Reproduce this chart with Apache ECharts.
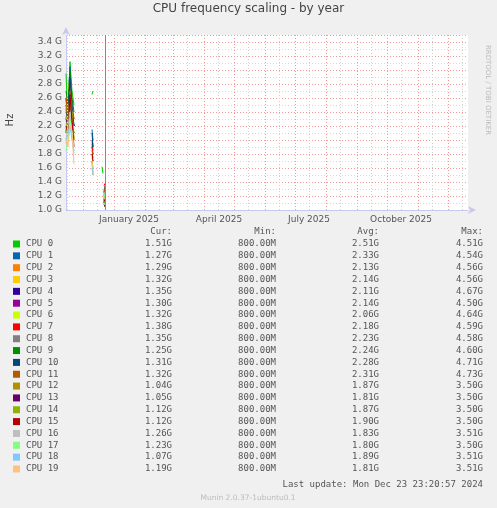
<!DOCTYPE html>
<html><head><meta charset="utf-8">
<script src="https://cdn.jsdelivr.net/npm/echarts@6/dist/echarts.min.js"></script>
<style>html,body{margin:0;padding:0;background:#f0f0f0}#c{width:497px;height:508px}</style>
</head><body><div id="c"></div>
<script>
// days since 2024-11-14 (x axis spans 402 days)
const days = [0,2,4,6,8,9,26,27,28,36,37,38,39];
const names = ["CPU 0","CPU 1","CPU 2","CPU 3","CPU 4","CPU 5","CPU 6","CPU 7","CPU 8","CPU 9","CPU 10","CPU 11","CPU 12","CPU 13","CPU 14","CPU 15","CPU 16","CPU 17","CPU 18","CPU 19"];
const colors = ["#00cc00","#0066b3","#ff8000","#ffcc00","#330099","#990099","#ccff00","#ff0000","#808080","#008f00","#00487d","#b35a00","#b38f00","#6b006b","#8fb300","#b30000","#bebebe","#80ff80","#80c9ff","#ffc080"];
const v0 = [2.95,2.3,3.12,2.7,2.5,null,2.65,2.7,null,1.62,1.52,null,null];
const v1 = [2.1,2.6,3.05,2.4,2.2,null,2.15,2.0,null,null,null,1.3,1.27];
const v2 = [2.6,2.2,2.8,2.5,2.0,null,1.9,1.8,null,null,null,1.15,1.29];
const v3 = [2.4,2.7,2.9,2.6,2.3,null,1.85,1.7,null,null,null,1.2,1.32];
const v4 = [2.5,2.3,2.95,2.2,2.1,null,2.0,1.9,null,null,null,1.25,1.35];
const v5 = [2.3,2.5,2.6,2.4,2.2,null,1.95,1.85,null,null,null,1.1,1.30];
const v6 = [2.2,2.6,2.7,2.5,2.1,null,1.8,1.75,null,null,null,1.08,1.32];
const v7 = [2.6,2.4,2.85,2.3,2.2,null,1.9,1.8,null,null,null,1.35,1.38];
const v8 = [2.45,2.2,2.75,2.5,2.3,null,1.7,1.5,null,null,null,1.2,1.35];
const v9 = [2.7,2.5,3.0,2.6,2.4,null,1.9,1.95,null,null,null,1.1,1.25];
const v10 = [2.4,2.3,2.9,2.5,2.2,null,2.1,1.9,null,null,null,1.3,1.31];
const v11 = [2.6,2.2,2.7,2.4,2.3,null,1.85,1.8,null,null,null,1.25,1.32];
const v12 = [2.5,2.4,2.6,2.3,2.0,null,1.75,1.7,null,null,null,1.06,1.04];
const v13 = [2.3,2.2,2.65,2.2,2.1,null,1.8,1.75,null,null,null,1.08,1.05];
const v14 = [2.1,2.3,2.5,2.4,2.0,null,1.7,1.6,null,null,null,1.12,1.12];
const v15 = [2.2,2.1,2.6,2.3,1.9,null,1.8,1.7,null,null,null,1.15,1.12];
const v16 = [2.0,2.2,2.4,2.1,1.9,null,1.6,1.5,null,null,null,1.2,1.26];
const v17 = [1.85,2.0,2.3,2.1,1.8,null,1.65,1.55,null,null,null,1.18,1.23];
const v18 = [1.95,2.1,2.2,2.0,1.85,null,1.6,1.55,null,null,null,1.1,1.07];
const v19 = [2.0,1.9,2.2,2.1,1.65,null,1.7,1.6,null,null,null,1.15,1.19];
const vals = [v0,v1,v2,v3,v4,v5,v6,v7,v8,v9,v10,v11,v12,v13,v14,v15,v16,v17,v18,v19];
const cur = ["1.51G","1.27G","1.29G","1.32G","1.35G","1.30G","1.32G","1.38G","1.35G","1.25G","1.31G","1.32G","1.04G","1.05G","1.12G","1.12G","1.26G","1.23G","1.07G","1.19G"];
const mins = Array(20).fill("800.00M");
const avg = ["2.51G","2.33G","2.13G","2.14G","2.11G","2.14G","2.06G","2.18G","2.23G","2.24G","2.28G","2.31G","1.87G","1.81G","1.87G","1.90G","1.83G","1.80G","1.89G","1.81G"];
const maxs = ["4.51G","4.54G","4.56G","4.56G","4.67G","4.50G","4.64G","4.59G","4.58G","4.60G","4.71G","4.73G","3.50G","3.50G","3.50G","3.50G","3.51G","3.50G","3.51G","3.51G"];
const monthDays = [17,48,79,107,138,168,199,229,260,291,321,352,382];
const midMonthDays = [1,31,62,93,121,152,182,213,243,274,305,335,366,396];
const quarterLabels = [["January 2025",63],["April 2025",153],["July 2025",243],["October 2025",335]];
const nowDay = 39;

const mono = "DejaVu Sans Mono";
const series = names.map((n,i)=>({
  type:'line', name:n, showSymbol:false, connectNulls:false, animation:false,
  lineStyle:{width:1,color:colors[i]}, itemStyle:{color:colors[i]},
  data: days.map((d,j)=>[d, vals[i][j]]), z:3
}));
series.push({type:'line',data:[],animation:false,
  markLine:{silent:true,symbol:'none',label:{show:false},
    data:midMonthDays.map(d=>({xAxis:d,lineStyle:{color:'#d0d0d0',type:[1,2],width:1}}))
      .concat(monthDays.map(d=>({xAxis:d,lineStyle:{color:'#f29a9a',type:[1,2],width:1}})))
      .concat([{xAxis:nowDay,lineStyle:{color:'#888',type:'solid',width:1}}])}});
const chart = echarts.init(document.getElementById('c'));
const g = [];
g.push({type:'text',left:'center',top:3,style:{text:'CPU frequency scaling - by year',font:'12px DejaVu Sans',fill:'#444'}});
g.push({type:'text',x:10,y:120,rotation:Math.PI/2,style:{text:'Hz',font:'10px DejaVu Sans',fill:'#444',align:'center',verticalAlign:'middle'}});
g.push({type:'text',x:488,y:90,rotation:-Math.PI/2,style:{text:'RRDTOOL / TOBI OETIKER',font:'7px DejaVu Sans',fill:'#bbb',align:'center',verticalAlign:'middle'}});
const hdr=[['Cur:',172],['Min:',276],['Avg:',379],['Max:',483]];
hdr.forEach(h=>g.push({type:'text',x:h[1],y:232,style:{text:h[0],font:'9px '+mono,fill:'#555',align:'right',verticalAlign:'middle'}}));
names.forEach((n,i)=>{
  const y=244+i*11.84;
  g.push({type:'rect',shape:{x:13,y:y-3.5,width:7,height:7},style:{fill:colors[i]}});
  g.push({type:'text',x:26,y:y,style:{text:n,font:'9px '+mono,fill:'#555',verticalAlign:'middle'}});
  [[cur[i],172],[mins[i],276],[avg[i],379],[maxs[i],483]].forEach(c=>g.push({type:'text',x:c[1],y:y,style:{text:c[0],font:'9px '+mono,fill:'#555',align:'right',verticalAlign:'middle'}}));
});
g.push({type:'text',x:483,y:485,style:{text:'Last update: Mon Dec 23 23:20:57 2024',font:'9px '+mono,fill:'#555',align:'right',verticalAlign:'middle'}});
g.push({type:'text',x:248,y:498,style:{text:'Munin 2.0.37-1ubuntu0.1',font:'7.5px DejaVu Sans',fill:'#bbb',align:'center',verticalAlign:'middle'}});

chart.setOption({
  backgroundColor:'#f0f0f0', animation:false,
  grid:{left:66,right:29,top:35,bottom:298,backgroundColor:'#fff',show:true,borderWidth:0},
  xAxis:{type:'value',min:0,max:402,
    axisLine:{show:true,lineStyle:{color:'#c8c8f0'},symbol:['none','arrow'],symbolSize:[6,8],symbolOffset:[0,8]},
    axisTick:{show:false},axisLabel:{show:false},
    splitLine:{show:false}},
  yAxis:{type:'value',min:1.0,max:3.5,interval:0.2,
    axisLine:{show:true,lineStyle:{color:'#c8c8f0'},symbol:['none','arrow'],symbolSize:[6,8],symbolOffset:[0,8]},
    axisTick:{show:false},
    axisLabel:{formatter:v=>v.toFixed(1)+' G',color:'#555',fontFamily:'DejaVu Sans',fontSize:9,margin:4,showMaxLabel:false},
    splitLine:{show:true,lineStyle:{color:'#f29a9a',type:[1,2]}},
    minorTick:{show:false,splitNumber:2},minorSplitLine:{show:true,lineStyle:{color:'#d8d8d8',type:[1,2]}}},
  series:series, graphic:g
});
quarterLabels.forEach(q=>{
  const p = chart.convertToPixel({gridIndex:0},[q[1],1.0]);
  g.push({type:'text',x:p[0],y:p[1]+10,style:{text:q[0],font:'9px DejaVu Sans',fill:'#555',align:'center',verticalAlign:'middle'}});
});
chart.setOption({graphic:g});
</script></body></html>
